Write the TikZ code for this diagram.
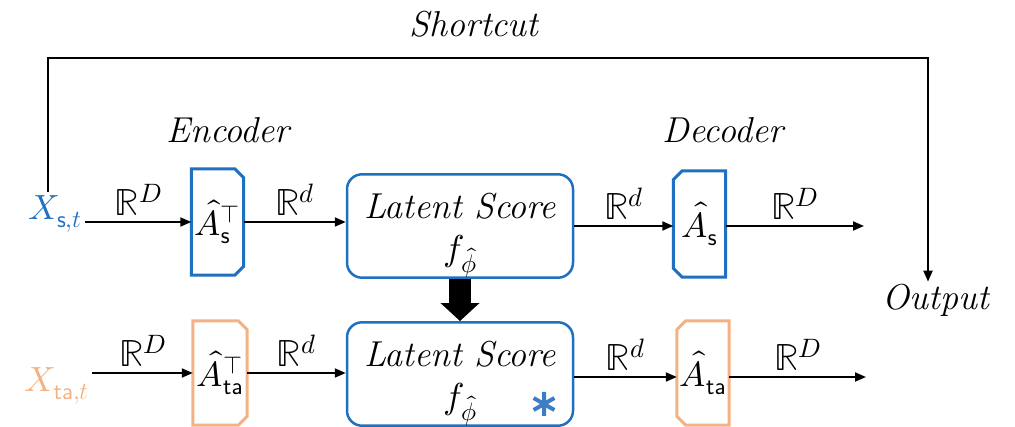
\documentclass[tikz,border=0pt]{standalone}
\usepackage{amsmath}
\usepackage{unicode-math}
\setmathfont{Latin Modern Math}
\usetikzlibrary{arrows.meta}
\definecolor{cblue}{HTML}{1F70C1}
\definecolor{corange}{HTML}{F4B183}
\definecolor{cstar}{HTML}{3C7DC4}
\begin{document}
\begin{tikzpicture}[x=1pt,y=-1pt,
  every node/.style={font=\fontsize{35}{41}\selectfont},
  lbl/.style={font=\fontsize{36}{42}\selectfont\itshape},
  rlab/.style={inner sep=2pt,above=3pt,font=\fontsize{38}{44}\selectfont},
  arr/.style={line width=2pt,-{Triangle[length=11pt,width=9pt]}},
  boxn/.style={rectangle,inner sep=0pt,minimum width=52pt,minimum height=106pt},
  chline/.style={line width=3pt,line join=miter},
  lsbox/.style={rectangle,rounded corners=15pt,draw=cblue,line width=2.5pt,
    minimum width=226pt,minimum height=98pt,align=center,inner sep=0pt,
    font=\fontsize{36}{42}\selectfont},
  bigarr/.style={line width=22pt,-{Triangle[length=18pt,width=38pt]}}
]
\useasboundingbox (0,0) rectangle (1015,427);

% titles
\node[lbl] (sct) at (474,24) {Shortcut};
\node[lbl] (enc) at (228,130) {Encoder};
\node[lbl] (dec) at (723,130) {Decoder};
\node[lbl,inner sep=2pt] (outp) at (936,300) {Output};

% inputs
\node[text=cblue,inner sep=3pt] (xs) at (55,214) {$X_{\mathsf{s},t}$};
\node[text=corange,inner sep=3pt] (xta) at (57,386) {$X_{\mathsf{ta},t}$};

% encoder / decoder boxes
\node[boxn] (encs) at (217.5,222) {$\hat{A}^{\top}_{\mathsf{s}}$};
\node[boxn,minimum width=54pt,minimum height=104pt] (encta) at (220,373) {$\hat{A}^{\top}_{\mathsf{ta}}$};
\node[boxn] (decs) at (699.5,224) {$\hat{A}_{\mathsf{s}}$};
\node[boxn,minimum height=104pt] (decta) at (703,373) {$\hat{A}_{\mathsf{ta}}$};

\draw[chline,draw=cblue] (encs.north west) -- ([xshift=-9pt]encs.north east)
  -- ([yshift=-9pt]encs.north east) -- ([yshift=9pt]encs.south east)
  -- ([xshift=-9pt]encs.south east) -- (encs.south west) -- cycle;
\draw[chline,draw=corange] (encta.north west) -- ([xshift=-9pt]encta.north east)
  -- ([yshift=-9pt]encta.north east) -- ([yshift=9pt]encta.south east)
  -- ([xshift=-9pt]encta.south east) -- (encta.south west) -- cycle;
\draw[chline,draw=cblue] (decs.north east) -- ([xshift=9pt]decs.north west)
  -- ([yshift=-9pt]decs.north west) -- ([yshift=9pt]decs.south west)
  -- ([xshift=9pt]decs.south west) -- (decs.south east) -- cycle;
\draw[chline,draw=corange] (decta.north east) -- ([xshift=9pt]decta.north west)
  -- ([yshift=-9pt]decta.north west) -- ([yshift=9pt]decta.south west)
  -- ([xshift=9pt]decta.south west) -- (decta.south east) -- cycle;

% latent score boxes
\node[lsbox] (ls1) at (460,226) {\rule{0pt}{44pt}\textit{Latent Score}\\[0pt]$f_{\widehat{\phi}}$};
\node[lsbox] (ls2) at (460,374) {\rule{0pt}{44pt}\textit{Latent Score}\\[0pt]$f_{\widehat{\phi}}$};

% asterisk
\coordinate (st) at (544,404);
\draw[cstar,line width=4pt] ([yshift=12pt]st) -- ([yshift=-12pt]st)
  ([shift={(30:12pt)}]st) -- ([shift={(210:12pt)}]st)
  ([shift={(150:12pt)}]st) -- ([shift={(330:12pt)}]st);

% big arrow
\draw[bigarr] (ls1.south) -- (ls2.north);

% free ends
\coordinate (o1) at (864,226);
\coordinate (o2) at (866,377);
\coordinate (s0) at (48,192);
\coordinate (s2) at (928,58);

% upper row
\draw[arr] (xs.east |- encs.west) -- (encs.west) node[midway,rlab] (l1) {$\mathbb{R}^D$};
\draw[arr] (encs.east) -- (encs.east -| ls1.west) node[midway,rlab] (l2) {$\mathbb{R}^d$};
\draw[arr] (ls1.east) -- (ls1.east -| decs.west) node[midway,rlab] (l3) {$\mathbb{R}^d$};
\draw[arr] (decs.east |- o1) -- (o1) node[midway,rlab] (l4) {$\mathbb{R}^D$};

% lower row
\draw[arr] (xta.east |- encta.west) -- (encta.west) node[midway,rlab] (l5) {$\mathbb{R}^D$};
\draw[arr] (encta.east) -- (encta.east -| ls2.west) node[midway,rlab] (l6) {$\mathbb{R}^d$};
\draw[arr] (ls2.east |- o2) -- (decta.west |- o2) node[midway,rlab] (l7) {$\mathbb{R}^d$};
\draw[arr] (decta.east |- o2) -- (o2) node[midway,rlab] (l8) {$\mathbb{R}^D$};

% shortcut
\draw[arr] (s0) |- (s2) -- (s2 |- outp.north);
\end{tikzpicture}
\end{document}
